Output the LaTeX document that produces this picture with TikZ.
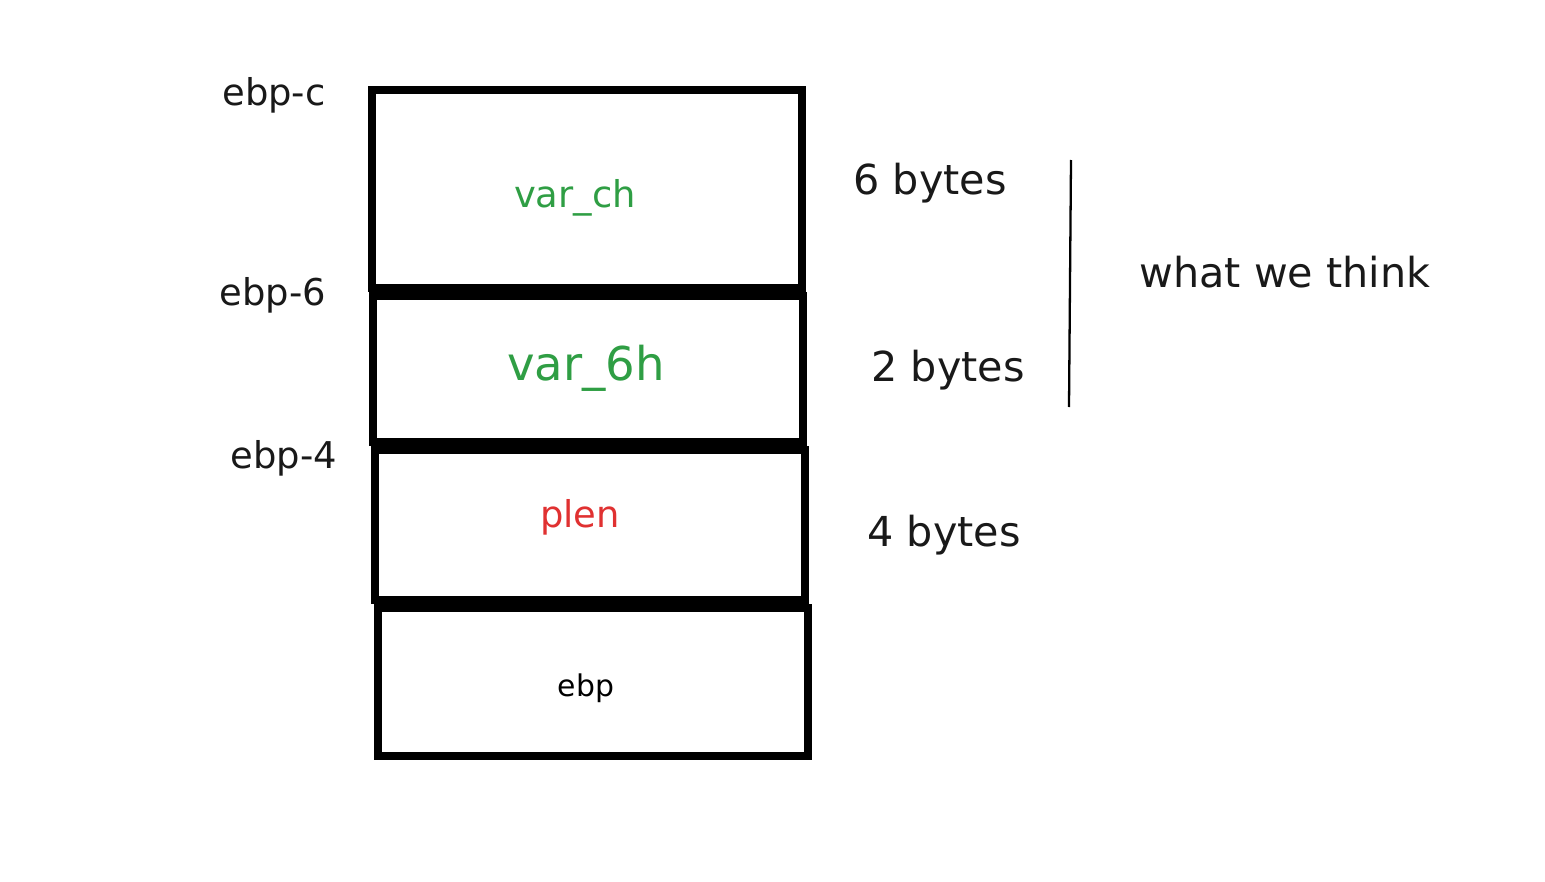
\documentclass[tikz,border=0pt]{standalone}
\usepackage{fontspec}
\setmainfont{DejaVu Sans}
\usepackage{tikz}

\definecolor{vargreen}{HTML}{2F9E44}
\definecolor{varred}{HTML}{E03131}

\begin{document}
\begin{tikzpicture}[x=0.02cm,y=-0.02cm,
  cell/.style={draw,line width=4.5pt,minimum width=8.6cm,inner sep=0pt},
  lbl/.style={font=\fontsize{21}{24}\selectfont,text=black!90},
  big/.style={font=\fontsize{23.5}{27}\selectfont,text=black!90}]
\useasboundingbox (0,0) rectangle (1545,882);
% the stack cells
\node[cell,minimum height=3.96cm] (ch) at (587,189) {};
\node[cell,minimum height=2.92cm] (sixh) at (588,369) {};
\node[cell,minimum height=3.0cm] (plen) at (590,525) {};
\node[cell,minimum height=2.96cm] (base) at (593,682) {};
% names in the cells
\node (chname) at (575,198) {\fontsize{21}{24}\selectfont\color{vargreen}var\_ch};
\node (sixhname) at (586,368) {\fontsize{26.5}{30}\selectfont\color{vargreen}var\_6h};
\node (plenname) at (580,517) {\fontsize{21}{24}\selectfont\color{varred}plen};
\node (basename) at (586,688) {\fontsize{17}{20}\selectfont ebp};
% offsets
\node[lbl] (offc) at (274,95) {ebp-c};
\node[lbl] (off6) at (273,295) {ebp-6};
\node[lbl] (off4) at (284,458) {ebp-4};
% sizes
\node[big] (sz6) at (930,183) {6 bytes};
\node[big] (sz2) at (948,370) {2 bytes};
\node[big] (sz4) at (944,535) {4 bytes};
\coordinate (top) at (1071,160);
\coordinate (bot) at (1069,407);
\draw[line width=1.3pt] (top) -- (bot);
\node[big] (think) at (1285,272) {what we think};
\end{tikzpicture}
\end{document}
